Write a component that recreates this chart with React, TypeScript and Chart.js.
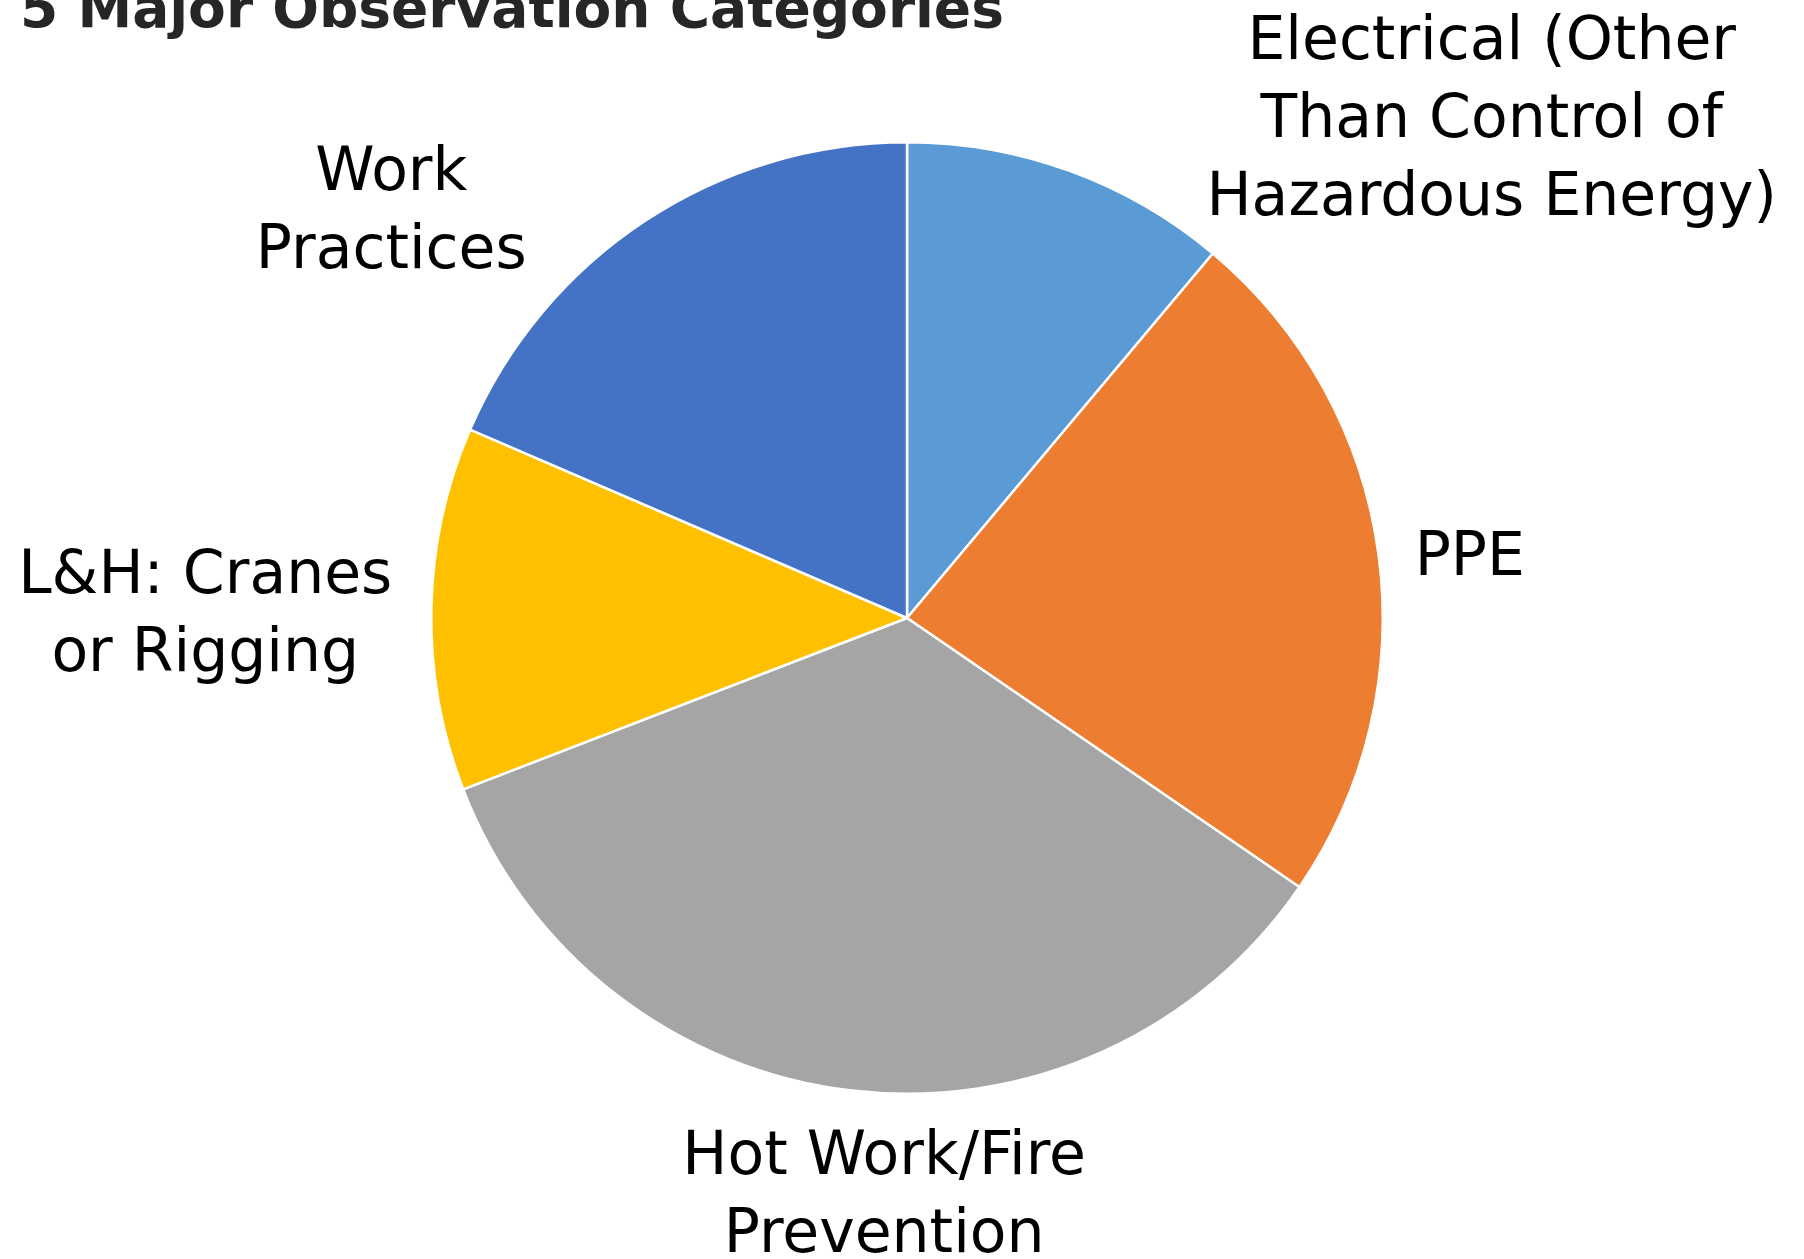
import React, { useEffect, useRef } from "react";
import { Chart, registerables } from "chart.js";

Chart.register(...registerables);

const TITLE = "5 Major Observation Categories";
const CATEGORIES = [
  ["Electrical (Other", "Than Control of", "Hazardous Energy)"],
  ["PPE"],
  ["Hot Work/Fire", "Prevention"],
  ["L&H: Cranes", "or Rigging"],
  ["Work", "Practices"],
];
const VALUES = [9, 19, 28, 10, 15];
const COLORS = ["#5B9BD5", "#ED7D31", "#A5A5A5", "#FFC000", "#4472C4"];

// label anchor offsets (center x, first baseline y) relative to pie center, in units of radius
const LABEL_OFFSETS = [
  [1.229, -1.176],
  [1.183, -0.09],
  [-0.048, 1.168],
  [-1.475, -0.053],
  [-1.084, -0.899],
];

const W = 1804;
const H = 1259;
const FONT = '"DejaVu Sans", sans-serif';

const labelPlugin = {
  id: "outsideLabels",
  afterDraw(chart: any) {
    const ctx = chart.ctx;
    const meta = chart.getDatasetMeta(0);
    ctx.save();
    // title
    ctx.font = `bold 55px ${FONT}`;
    ctx.fillStyle = "#262626";
    ctx.textAlign = "left";
    ctx.textBaseline = "alphabetic";
    ctx.fillText(TITLE, 20, 27);
    // labels
    ctx.font = `60px ${FONT}`;
    ctx.fillStyle = "#000000";
    ctx.textAlign = "center";
    meta.data.forEach((arc: any, i: number) => {
      const r = arc.outerRadius;
      const [ox, oy] = LABEL_OFFSETS[i];
      const cx = arc.x + ox * r;
      const by = arc.y + oy * r;
      const lh = 0.164 * r;
      (CATEGORIES[i] as string[]).forEach((line, j) => {
        ctx.fillText(line, cx, by + j * lh);
      });
    });
    ctx.restore();
  },
};

export default function App() {
  const ref = useRef<HTMLCanvasElement | null>(null);
  useEffect(() => {
    if (!ref.current) return;
    const chart = new Chart(ref.current, {
      type: "pie",
      data: {
        labels: CATEGORIES.map((c) => c.join(" ")),
        datasets: [
          {
            data: VALUES,
            backgroundColor: COLORS,
            borderColor: "#ffffff",
            borderWidth: 2.5,
          },
        ],
      },
      options: {
        responsive: false,
        animation: false,
        layout: { padding: { left: 430, right: 420, top: 141, bottom: 164 } },
        plugins: {
          legend: { display: false },
          title: { display: false },
          tooltip: { enabled: false },
        },
      },
      plugins: [labelPlugin],
    });
    return () => chart.destroy();
  }, []);
  return (
    <div style={{ position: "absolute", left: 0, top: 0, width: W, height: H, background: "#fff" }}>
      <canvas ref={ref} width={W} height={H} style={{ display: "block" }} />
    </div>
  );
}
